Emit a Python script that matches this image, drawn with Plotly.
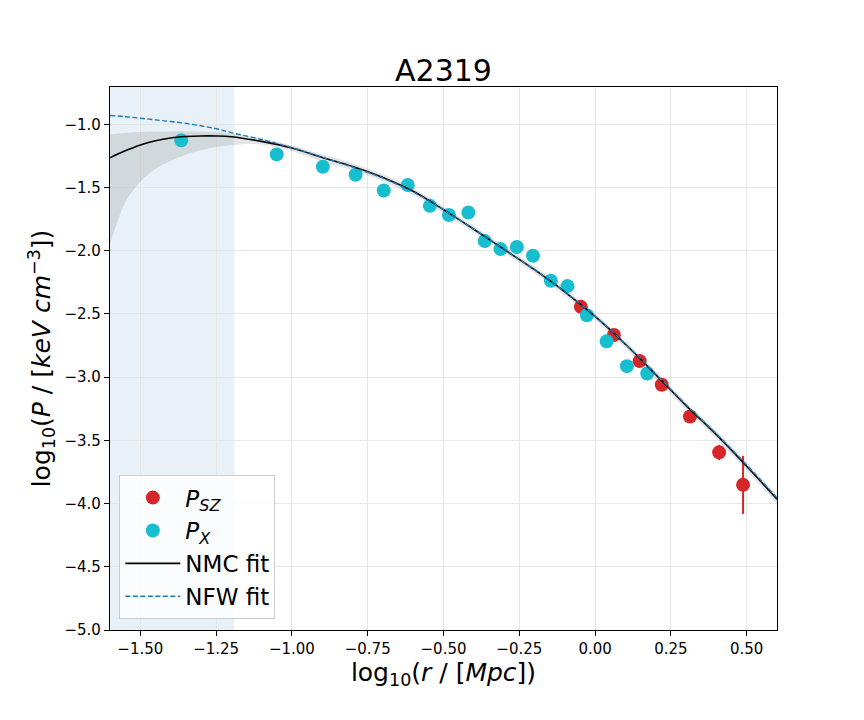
"""Pressure profile of A2319: SZ and X-ray points with NMC / NFW fits."""

import plotly.graph_objects as go

# ── data ─────────────────────────────────────────────────────────────
x_sz = [-0.047, 0.062, 0.147, 0.220, 0.313, 0.409, 0.488]
y_sz = [-2.444, -2.667, -2.873, -3.060, -3.311, -3.595, -3.852]
err_sz = [0.02, 0.02, 0.03, 0.03, 0.04, 0.06, 0.23]

x_x = [-1.365, -1.050, -0.898, -0.790, -0.697, -0.618, -0.545, -0.482,
       -0.418, -0.364, -0.312, -0.258, -0.205, -0.146, -0.091, -0.027,
       0.038, 0.105, 0.172]
y_x = [-1.127, -1.238, -1.336, -1.399, -1.524, -1.480, -1.645, -1.717,
       -1.698, -1.923, -1.987, -1.971, -2.040, -2.238, -2.280, -2.510,
       -2.717, -2.913, -2.971]
err_x = [0.01] * len(x_x)

fit_x = [-1.6, -1.55, -1.5, -1.45, -1.4, -1.35, -1.3, -1.25, -1.2, -1.1,
         -1.0, -0.9, -0.8, -0.7, -0.6, -0.5, -0.4, -0.3, -0.2, -0.1,
         0.0, 0.1, 0.2, 0.3, 0.4, 0.5, 0.6]
nmc_y = [-1.265, -1.210, -1.163, -1.130, -1.108, -1.097, -1.092, -1.092,
         -1.098, -1.135, -1.187, -1.262, -1.333, -1.420, -1.530, -1.675,
         -1.830, -1.990, -2.150, -2.325, -2.520, -2.740, -2.980, -3.225,
         -3.455, -3.705, -3.965]
nmc_lo = [-1.950, -1.620, -1.455, -1.352, -1.290, -1.240, -1.205, -1.180,
          -1.165, -1.160, -1.215, -1.295, -1.365, -1.450, -1.560, -1.705,
          -1.858, -2.018, -2.177, -2.353, -2.548, -2.770, -3.010, -3.257,
          -3.488, -3.740, -4.002]
nmc_hi = [-1.080, -1.068, -1.060, -1.057, -1.056, -1.056, -1.058, -1.063,
          -1.072, -1.110, -1.165, -1.237, -1.308, -1.395, -1.505, -1.650,
          -1.805, -1.965, -2.125, -2.300, -2.495, -2.715, -2.953, -3.198,
          -3.426, -3.674, -3.932]
nfw_y = [-0.930, -0.940, -0.952, -0.965, -0.978, -0.993, -1.012, -1.035,
         -1.066, -1.120, -1.185, -1.260, -1.338, -1.425, -1.535, -1.675,
         -1.830, -1.990, -2.150, -2.325, -2.518, -2.737, -2.975, -3.218,
         -3.448, -3.695, -3.955]

core_edge = -1.19  # end of the shaded inner region

FONT = "DejaVu Sans, sans-serif"

fig = go.Figure()

# grey uncertainty band of the NMC fit
fig.add_trace(go.Scatter(x=fit_x, y=nmc_lo, mode="lines", line=dict(width=0),
                         line_shape="spline", showlegend=False, hoverinfo="skip"))
fig.add_trace(go.Scatter(x=fit_x, y=nmc_hi, mode="lines", line=dict(width=0),
                         line_shape="spline", fill="tonexty",
                         fillcolor="rgba(128,128,128,0.21)",
                         showlegend=False, hoverinfo="skip"))

fig.add_trace(go.Scatter(
    x=x_sz, y=y_sz, mode="markers", name="<i>P</i><sub><i>SZ</i></sub>",
    marker=dict(color="#d62728", size=14),
    error_y=dict(type="data", array=err_sz, color="#d62728", thickness=2, width=0),
))
fig.add_trace(go.Scatter(
    x=x_x, y=y_x, mode="markers", name="<i>P</i><sub><i>X</i></sub>",
    marker=dict(color="#17becf", size=14),
    error_y=dict(type="data", array=err_x, color="#17becf", thickness=2, width=0),
))
fig.add_trace(go.Scatter(x=fit_x, y=nmc_y, mode="lines", name="NMC fit",
                         line=dict(color="black", width=1.6), line_shape="spline"))
fig.add_trace(go.Scatter(x=fit_x, y=nfw_y, mode="lines", name="NFW fit",
                         line=dict(color="#1f77b4", width=1.4, dash="5px,2.5px"),
                         line_shape="spline"))

fig.add_shape(type="rect", xref="x", yref="paper", x0=-1.6, x1=core_edge,
              y0=0, y1=1, fillcolor="rgba(31,119,180,0.1)", line_width=0,
              layer="below")

axis_common = dict(
    showgrid=True, gridcolor="#e6e6e6", gridwidth=1, zeroline=False,
    showline=True, linecolor="black", linewidth=1.2, mirror=True,
    ticks="outside", ticklen=5, tickcolor="black", automargin=False,
    tickfont=dict(size=15, color="black", family=FONT),
)

fig.update_xaxes(
    range=[-1.6, 0.6], tickmode="linear", tick0=-1.5, dtick=0.25, tickformat=".2f",
    title=dict(text="log<sub>10</sub>(<i>r</i> / [<i>Mpc</i>])",
               font=dict(size=25, family=FONT, color="black"), standoff=2),
    **axis_common,
)
fig.update_yaxes(
    range=[-5.0, -0.705], tickmode="linear", tick0=-5.0, dtick=0.5, tickformat=".1f",
    title=dict(text="log<sub>10</sub>(<i>P</i> / [<i>keV cm</i><sup>−3</sup>])",
               font=dict(size=25, family=FONT, color="black"), standoff=6),
    **axis_common,
)

# the page body adds an 8 px offset, so margins are shifted to compensate
fig.update_layout(
    width=864, height=720,
    margin=dict(l=102, r=95, t=79, b=98),
    paper_bgcolor="white", plot_bgcolor="white",
    font=dict(family=FONT, color="black"),
    title=dict(text="A2319", x=0.5, xref="paper", xanchor="center",
               y=1 - 62 / 720, yanchor="middle",
               font=dict(size=30, family=FONT, color="black")),
    legend=dict(x=0.014, y=0.02, xanchor="left", yanchor="bottom",
                traceorder="normal",
                bgcolor="rgba(255,255,255,0.8)", bordercolor="#cccccc",
                borderwidth=1, font=dict(size=23, family=FONT, color="black"),
                itemwidth=55, tracegroupgap=0),
    showlegend=True,
)

fig.write_html("out.html")
